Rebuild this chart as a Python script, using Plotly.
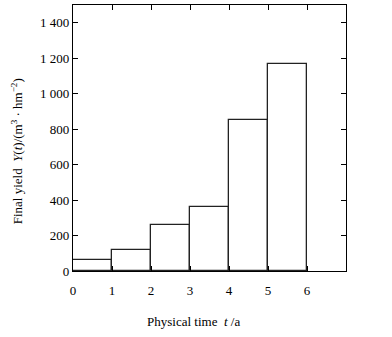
import plotly.graph_objects as go

years = [1, 2, 3, 4, 5, 6]
yield_vals = [60, 120, 260, 360, 850, 1165]
x_ticks = [0, 1, 2, 3, 4, 5, 6]
y_ticks = [0, 200, 400, 600, 800, 1000, 1200, 1400]
y_ticktext = ["0", "200", "400", "600", "800", "1 000", "1 200", "1 400"]

FONT = "Liberation Serif"

fig = go.Figure()
fig.add_trace(go.Bar(
    x=[y - 0.5 for y in years], y=yield_vals, width=1,
    marker=dict(color="white", line=dict(color="#222", width=1.3)),
))

axis_common = dict(showline=True, linecolor="black", linewidth=1.2, mirror="ticks",
                   ticks="inside", ticklen=5, tickcolor="black", tickwidth=1,
                   showgrid=False, zeroline=False,
                   tickfont=dict(family=FONT, size=13, color="black"))

fig.update_xaxes(range=[0, 7], tickvals=x_ticks, ticklabelstandoff=7, **axis_common)
fig.update_yaxes(range=[0, 1500], tickvals=y_ticks, ticktext=y_ticktext, **axis_common)

fig.update_layout(
    width=392, height=337,
    margin=dict(l=73, r=46, t=5, b=65.5),
    plot_bgcolor="white", paper_bgcolor="white",
    showlegend=False, bargap=0,
    font=dict(family=FONT, size=13, color="black"),
    annotations=[
        dict(text="Physical time  <i>t</i> /a", xref="paper", yref="paper",
             x=0.44, y=-0.19, xanchor="center", yanchor="middle", showarrow=False,
             font=dict(family=FONT, size=13)),
        dict(text="Final yield  <i>Y</i>(<i>t</i>)/(m<sup>3</sup> · hm<sup>−2</sup>)",
             xref="paper", yref="paper", textangle=-90,
             x=-0.205, y=0.45, xanchor="center", yanchor="middle", showarrow=False,
             font=dict(family=FONT, size=13)),
    ],
)

fig.write_html("out.html", config={"displayModeBar": False},
               post_script="document.body.style.margin='0';document.body.style.overflow='hidden';")
